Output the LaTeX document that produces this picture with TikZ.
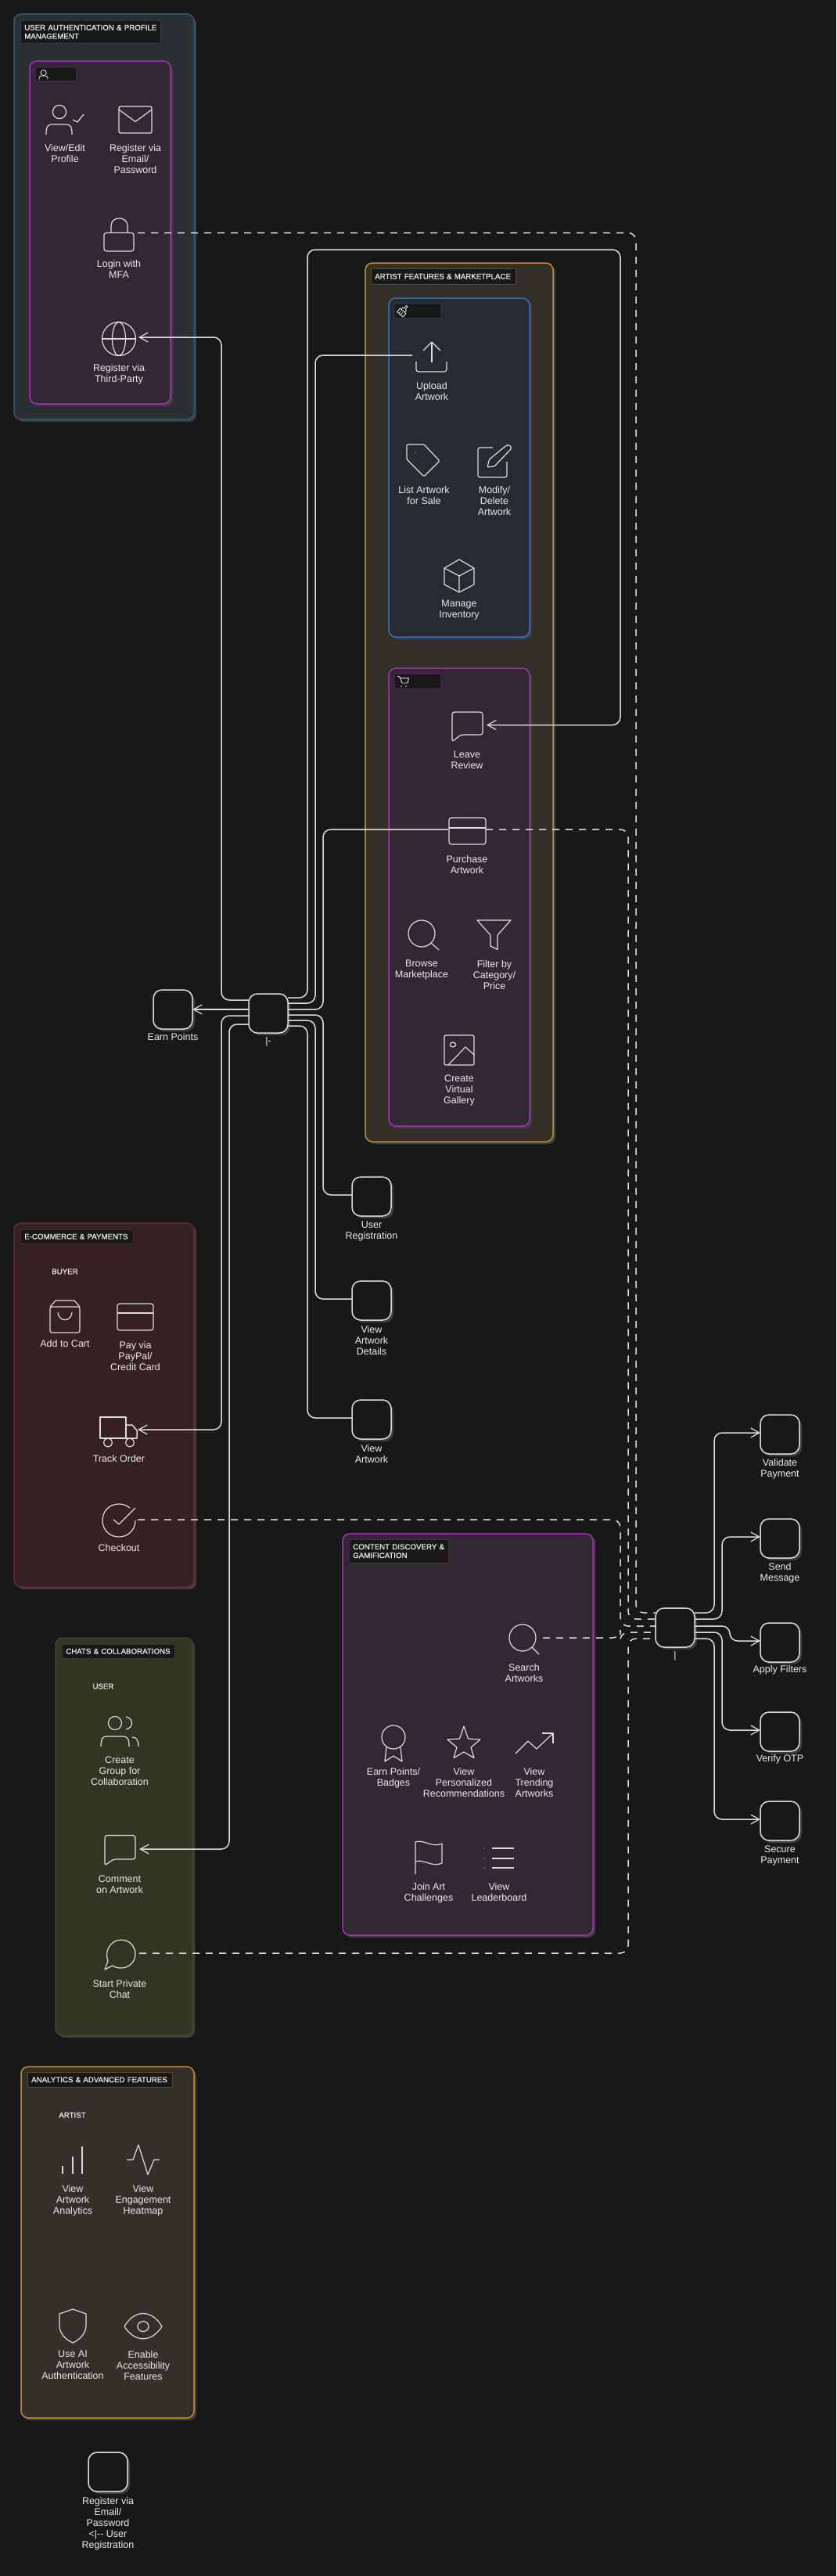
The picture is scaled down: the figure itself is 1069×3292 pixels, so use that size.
\documentclass[tikz,border=0pt]{standalone}
\usepackage{fontspec}
\setmainfont{Liberation Sans}
\newfontfamily\ttlfont[FakeBold=0.8]{Liberation Sans}
\usetikzlibrary{arrows.meta,shadows}
\hyphenpenalty=10000
\exhyphenpenalty=10000
\definecolor{bgc}{HTML}{181818}
\definecolor{shc}{HTML}{3F3F3F}
\definecolor{wln}{HTML}{DCDCDC}
\definecolor{txc}{HTML}{EAEAEA}
\definecolor{authf}{HTML}{292F32}\definecolor{auths}{HTML}{2F5A6B}
\definecolor{purf}{HTML}{322733}\definecolor{purs}{HTML}{A333B3}
\definecolor{orf}{HTML}{33302A}\definecolor{ors}{HTML}{C98A2B}
\definecolor{bluf}{HTML}{262A31}\definecolor{blus}{HTML}{3070C8}
\definecolor{redf}{HTML}{352023}\definecolor{reds}{HTML}{6A2A2E}
\definecolor{olf}{HTML}{333421}\definecolor{ols}{HTML}{43452A}
\newcounter{labc}
\tikzset{
 x=1pt,y=-1pt,
 panelst/.style={rounded corners=9pt,line width=1.5pt,drop shadow={shadow xshift=3pt,shadow yshift=-3pt,opacity=1,fill=shc}},
 ttl/.style={anchor=north west,fill=bgc,draw=#1,line width=.5pt,inner xsep=5pt,inner ysep=0pt,align=left,text=txc,font=\ttlfont\fontsize{9.7}{11}\selectfont,rounded corners=1pt},
 lbl/.style={anchor=north,inner sep=0pt,align=center,text=txc,font=\fontsize{12.5}{14}\selectfont},
 small/.style={anchor=center,inner sep=0pt,text=txc,font=\ttlfont\fontsize{9.7}{12}\selectfont},
 hit/.style={minimum width=50pt,minimum height=50pt,inner sep=0pt,outer sep=0pt},
 ubox/.style={minimum width=50pt,minimum height=50pt,inner sep=0pt,outer sep=0pt,draw=wln,fill=bgc,line width=1.5pt,rounded corners=11pt,drop shadow={shadow xshift=3pt,shadow yshift=-3pt,opacity=1,fill=shc}},
 ico/.style={draw=wln,line width=1.2pt,line join=round},
 conn/.style={draw=wln,line width=1.5pt,rounded corners=10pt},
 arr/.style={conn,-{Straight Barb[length=11pt,width=12pt,line width=1.2pt]}},
 dsh/.style={conn,dash pattern=on 9pt off 8pt},
}
\newcommand{\panel}[6]{\draw[panelst,fill=#5,draw=#6] (#1,#2) rectangle (#3,#4);}
\newcommand{\lab}[3]{\stepcounter{labc}\node[lbl] (lab\thelabc) at (#1,#2-5) {#3};}
\newcommand{\tline}[1]{\rlap{#1}}
\begin{document}
\begin{tikzpicture}
\useasboundingbox (0,0) rectangle (1069,3292);
\fill[bgc] (0,0) rectangle (1069,3292);

% ---------- panels
\panel{18}{18}{248}{536}{authf}{auths}
\panel{38}{78}{218}{516}{purf}{purs}
\panel{467}{336}{707}{1459}{orf}{ors}
\panel{497}{381}{677}{814}{bluf}{blus}
\panel{497}{854}{677}{1439}{purf}{purs}
\panel{18}{1563}{248}{2028}{redf}{reds}
\panel{71}{2093}{246}{2601}{olf}{ols}
\panel{438}{1960}{758}{2473}{purf}{purs}
\panel{27}{2641}{248}{3090}{orf}{ors}

% ---------- titles
\node[ttl=auths,minimum width=179pt,minimum height=29pt,text width=169pt] (t1) at (26,26) {\tline{USER AUTHENTICATION \& PROFILE}\\\tline{MANAGEMENT}};
\node[ttl=ors!60!bgc,minimum width=185pt,minimum height=20pt,text width=175pt] (t2) at (474,343) {\tline{ARTIST FEATURES \& MARKETPLACE}};
\node[ttl=reds,minimum width=144pt,minimum height=18pt,text width=134pt] (t3) at (26,1571) {\tline{E-COMMERCE \& PAYMENTS}};
\node[ttl=ols,minimum width=144pt,minimum height=18pt,text width=134pt] (t4) at (79,2101) {\tline{CHATS \& COLLABORATIONS}};
\node[ttl=purs!60!bgc,minimum width=127pt,minimum height=30pt,text width=117pt] (t5) at (446,1967) {\tline{CONTENT DISCOVERY \&}\\\tline{GAMIFICATION}};
\node[ttl=ors!60!bgc,minimum width=185pt,minimum height=19pt,text width=175pt] (t6) at (35,2648) {\tline{ANALYTICS \& ADVANCED FEATURES}};

% small tag boxes
\draw[fill=bgc,draw=purs!70!bgc,line width=.6pt,rounded corners=1pt] (45,86) rectangle (98,104);
\draw[fill=bgc,draw=blus!60!bgc,line width=.6pt,rounded corners=1pt] (504,388) rectangle (564,407);
\draw[fill=bgc,draw=purs!60!bgc,line width=.6pt,rounded corners=1pt] (504,861) rectangle (564,880);
% tag icons
\draw[ico,line width=.9pt] (55.7,93) circle[radius=3.6pt];
\draw[ico,line width=.9pt] (50,101.5) -- (50,100) .. controls (50,97) and (52,97) .. (53,97) -- (58,97) .. controls (61,97) and (61,98) .. (61,101.5);
\begin{scope}[shift={(514.5,398)},rotate=-40]
\draw[ico,line width=.9pt] (-5,-1) rectangle (5,5);
\draw[ico,line width=.9pt] (-3,-1) -- (-3,-4) -- (-1,-5) -- (-1,-9) -- (1,-9) -- (1,-5) -- (3,-4) -- (3,-1);
\draw[ico,line width=.7pt] (-2,1) -- (-2,5) (1,1) -- (1,5);
\end{scope}
\draw[ico,line width=.9pt] (508,864) -- (511,865) -- (514,873) -- (521,873) -- (522.5,866.5) -- (511.5,866.5);
\fill[wln] (513,877) circle[radius=.8pt] (519,877) circle[radius=.8pt];

% ---------- hit areas of the icons used by connectors
\node[hit] (lock) at (151,297.5) {};
\node[hit] (globe) at (152,431) {};
\node[hit] (upload) at (552,454) {};
\node[hit] (leave) at (597,926.5) {};
\node[hit,minimum width=48pt] (purchase) at (597,1060) {};
\node[hit] (track) at (151,1827) {};
\node[hit] (checkout) at (151,1942) {};
\node[hit] (search) at (669,2093) {};
\node[hit] (comment) at (153,2363) {};
\node[hit] (chat) at (153,2496) {};

% ---------- auth icons
\draw[ico] (76,143) circle[radius=8.6pt];
\draw[ico] (59,172) .. controls (59,161) and (61,159) .. (68,159) -- (83,159) .. controls (90,159) and (92,161) .. (92,172);
\draw[ico] (93,153) -- (99,156) -- (107,146);
\lab{83}{189}{View/Edit\\Profile}
\draw[ico,rounded corners=2pt] (152,136) rectangle (194,170);
\draw[ico] (152,140) -- (173,155.5) -- (194,140);
\lab{173}{189}{Register via\\Email/\\Password}
\draw[ico,rounded corners=3pt] (133,297.5) rectangle (171,321);
\draw[ico] (142,297.5) -- (142,289) .. controls (142,282) and (147,279) .. (152.5,279) .. controls (158,279) and (163,282) .. (163,289) -- (163,297.5);
\lab{152}{337}{Login with\\MFA}
\draw[ico] (152,433) circle[radius=21.5pt];
\draw[ico] (152,433) ellipse[x radius=8.5pt,y radius=21.5pt];
\draw[ico] (130.5,433) -- (173.5,433);
\lab{152}{470}{Register via\\Third-Party}

% ---------- artist icons
\draw[ico] (552,463) -- (552,437);
\draw[ico] (541,448) -- (552,437) -- (563,448);
\draw[ico,rounded corners=3pt] (532,462) -- (532,475) -- (571,475) -- (571,462);
\lab{552}{493}{Upload\\Artwork}
\draw[ico,rounded corners=1.5pt] (520,568) -- (542,568) -- (562,589) -- (542,609) -- (520,587) -- cycle;
\fill[wln] (531,578.5) circle[radius=.7pt];
\lab{542}{626}{List Artwork\\for Sale}
\draw[ico,rounded corners=2.5pt] (630,572) -- (611,572) -- (611,610) -- (648,610) -- (648,590);
\draw[ico,rounded corners=1pt] (623,597) -- (625.5,587) -- (647,569.5) .. controls (650,568) and (654,570) .. (653,574) -- (632,596) -- cycle;
\lab{632}{626}{Modify/\\Delete\\Artwork}
\draw[ico] (587,715) -- (606,726) -- (606,747) -- (587,757) -- (568,747) -- (568,726) -- cycle;
\draw[ico] (568,726) -- (587,736) -- (606,726) (587,736) -- (587,757);
\lab{587}{772}{Manage\\Inventory}

\draw[ico,rounded corners=3pt] (578,948) -- (578,910) -- (617,910) -- (617,939) -- (589,939) -- cycle;
\lab{597}{965}{Leave\\Review}
\draw[ico,rounded corners=3pt] (574,1045) rectangle (621,1079);
\draw[ico] (574,1058) -- (621,1058);
\lab{597}{1098}{Purchase\\Artwork}
\draw[ico] (539,1193) circle[radius=17pt];
\draw[ico] (551,1205) -- (561,1214);
\lab{539}{1232}{Browse\\Marketplace}
\draw[ico] (610,1176) -- (653,1176) -- (636,1195) -- (636,1213.5) -- (627,1209) -- (627,1195) -- cycle;
\lab{632}{1232}{Filter by\\Category/\\Price}
\draw[ico,rounded corners=2pt] (568,1323) rectangle (606,1361);
\draw[ico] (579,1335) ellipse[x radius=3.6pt,y radius=3pt];
\draw[ico] (573,1361) -- (595,1338) -- (606,1348);
\lab{587}{1379}{Create\\Virtual\\Gallery}

% ---------- e-commerce icons
\node[small] (buyer) at (83,1625) {BUYER};
\draw[ico,rounded corners=2.5pt] (64,1670) rectangle (102,1703);
\draw[ico] (64,1670) -- (71,1662) -- (95,1662) -- (102,1670);
\draw[ico] (74,1677) .. controls (75,1690) and (91,1690) .. (92,1677);
\lab{83}{1717}{Add to Cart}
\draw[ico,rounded corners=3pt] (150,1666) rectangle (196,1700);
\draw[ico] (150,1678) -- (196,1678);
\lab{173}{1719}{Pay via\\PayPal/\\Credit Card}
\draw[ico,line width=1.5pt] (128,1811) rectangle (161,1838);
\draw[ico,line width=1.5pt] (161,1821) -- (169,1821) -- (175,1828) -- (175,1838) -- (161,1838);
\draw[ico] (138,1843.5) circle[radius=5.5pt] (166,1843.5) circle[radius=5.5pt];
\lab{152}{1864}{Track Order}
\draw[ico] (166,1927) .. controls (161,1923) and (156,1922) .. (152,1922) .. controls (140,1922) and (131,1931) .. (131,1943) .. controls (131,1955) and (140,1964) .. (152,1964) .. controls (164,1964) and (173,1955) .. (173,1943);
\draw[ico] (145,1942) -- (152,1948) -- (173,1927);
\lab{152}{1978}{Checkout}

% ---------- chat icons
\node[small] (user) at (132,2155) {USER};
\draw[ico] (147,2202) circle[radius=8.5pt];
\draw[ico] (129,2232) .. controls (129,2222) and (131,2219) .. (137,2219) -- (157,2219) .. controls (163,2219) and (165,2222) .. (165,2232);
\draw[ico] (161,2194) .. controls (171,2196) and (171,2208) .. (161,2210);
\draw[ico] (169,2220) .. controls (175,2220) and (177,2224) .. (177,2232);
\lab{153}{2250}{Create\\Group for\\Collaboration}
\draw[ico,rounded corners=3pt] (134,2384) -- (134,2345.5) -- (173,2345.5) -- (173,2376) -- (145,2376) -- cycle;
\lab{153}{2402}{Comment\\on Artwork}
\draw[ico] (134,2517) -- (138,2506) .. controls (133,2494) and (141,2479) .. (155,2479) .. controls (166,2479) and (173,2488) .. (173,2497) .. controls (173,2508) and (164,2515) .. (155,2515) .. controls (151,2515) and (147,2514) .. (144,2512) -- cycle;
\lab{153}{2535}{Start Private\\Chat}

% ---------- content discovery icons
\draw[ico] (668,2093) circle[radius=17pt];
\draw[ico] (680,2105) -- (689,2114);
\lab{670}{2131}{Search\\Artworks}
\draw[ico] (503,2220) circle[radius=15pt];
\draw[ico] (494,2233) -- (492,2251) -- (503,2244) -- (514,2251) -- (512,2233);
\lab{503}{2264}{Earn Points/\\Badges}
\draw[ico] (593,2206) -- (598.5,2222) -- (614,2223) -- (602,2233) -- (606,2246.5) -- (593,2239) -- (580,2246.5) -- (584,2233) -- (572,2223) -- (587.5,2222) -- cycle;
\lab{593}{2264}{View\\Personalized\\Recommendations}
\draw[ico] (659,2241) -- (675,2225) -- (686,2235) -- (707,2215);
\draw[ico] (693,2215) -- (707,2215) -- (707,2228);
\lab{683}{2264}{View\\Trending\\Artworks}
\draw[ico] (531,2395) -- (531,2354) .. controls (541,2350) and (553,2362) .. (565,2356) -- (565,2381) .. controls (553,2387) and (541,2375) .. (531,2379);
\lab{548}{2411}{Join Art\\Challenges}
\draw[ico] (629,2362) -- (657,2362) (629,2375) -- (657,2375) (629,2387) -- (657,2387);
\fill[wln] (619,2362) circle[radius=.7pt] (619,2375) circle[radius=.7pt] (619,2387) circle[radius=.7pt];
\lab{638}{2411}{View\\Leaderboard}

% ---------- analytics icons
\node[small] (artist) at (92.5,2703) {ARTIST};
\draw[ico] (80,2768) -- (80,2778) (93,2756) -- (93,2778) (105,2743) -- (105,2778);
\lab{93}{2797}{View\\Artwork\\Analytics}
\draw[ico] (162,2760) -- (170,2760) -- (177,2741) -- (189,2779) -- (197,2760) -- (204,2760);
\lab{183}{2797}{View\\Engagement\\Heatmap}
\draw[ico] (93,2951) -- (110,2957) -- (110,2972) .. controls (110,2982) and (102,2990) .. (93,2994) .. controls (84,2990) and (76,2982) .. (76,2972) -- (76,2957) -- cycle;
\lab{93}{3009}{Use AI\\Artwork\\Authentication}
\draw[ico] (159,2973) .. controls (172,2951) and (194,2951) .. (207,2973) .. controls (194,2994) and (172,2994) .. (159,2973) -- cycle;
\draw[ico] (183,2973) ellipse[x radius=7pt,y radius=6.5pt];
\lab{183}{3009}{Enable\\Accessibility\\Features}

% ---------- plain boxes and hubs
\node[ubox] (hubA) at (343,1295) {};
\node[ubox] (earn) at (221,1290) {};
\node[ubox] (ureg) at (475,1529) {};
\node[ubox] (details) at (475,1662) {};
\node[ubox] (vart) at (475,1814) {};
\node[ubox] (hubB) at (863,2080) {};
\node[ubox] (valid) at (997,1833) {};
\node[ubox] (send) at (997,1966) {};
\node[ubox] (apply) at (997,2099) {};
\node[ubox] (verify) at (997,2213) {};
\node[ubox] (secure) at (997,2327) {};
\node[ubox] (regem) at (138,3159) {};
\lab{343}{1330}{|-}
\lab{863}{2115}{|}
\lab{221}{1325}{Earn Points}
\lab{475}{1566}{User\\Registration}
\lab{475}{1699}{View\\Artwork\\Details}
\lab{475}{1851}{View\\Artwork}
\lab{997}{1869}{Validate\\Payment}
\lab{997}{2002}{Send\\Message}
\lab{997}{2133}{Apply Filters}
\lab{997}{2247}{Verify OTP}
\lab{997}{2364}{Secure\\Payment}
\lab{138}{3196.5}{Register via\\Email/\\Password\\<|-{}- User\\Registration}

% ---------- connectors, hub A
\draw[arr] ([yshift=17pt]hubA.west) -- (283,1278) -- (283,431) -- (globe.east);
\draw[arr] ([yshift=5pt]hubA.west) -- (earn.east);
\draw[arr] ([yshift=-3pt]hubA.west) -- (283,1298) -- (283,1827) -- (track.east);
\draw[arr] ([yshift=-14pt]hubA.west) -- (293,1309) -- (293,2363) -- (comment.east);
\draw[arr] ([yshift=20pt]hubA.east) -- (393,1275) -- (393,319) -- (793,319) -- (793,926.5) -- (leave.east);
\draw[conn] ([yshift=13pt]hubA.east) -- (403,1282) -- (403,454) -- (upload.west);
\draw[conn] ([yshift=5pt]hubA.east) -- (413,1290) -- (413,1060) -- (purchase.west);
\draw[conn] ([yshift=-2pt]hubA.east) -- (413,1297) -- (413,1527) -- ([yshift=2pt]ureg.west);
\draw[conn] ([yshift=-9pt]hubA.east) -- (403,1304) -- (403,1660) -- ([yshift=2pt]details.west);
\draw[conn] ([yshift=-16pt]hubA.east) -- (393,1311) -- (393,1812) -- ([yshift=2pt]vart.west);
% ---------- connectors, hub B
\draw[dsh] (lock.east) -- (813,297.5) -- (813,2061) -- ([yshift=19pt]hubB.west);
\draw[dsh] (purchase.east) -- (803,1060) -- (803,2069) -- ([yshift=11pt]hubB.west);
\draw[dsh] (checkout.east) -- (793,1942) -- (793,2078) -- ([yshift=2pt]hubB.west);
\draw[dsh] (search.east) -- (793,2093) -- (793,2086) -- ([yshift=-6pt]hubB.west);
\draw[dsh] (chat.east) -- (803,2496) -- (803,2094) -- ([yshift=-14pt]hubB.west);
\draw[arr] ([yshift=19pt]hubB.east) -- (913,2061) -- (913,1831) -- ([yshift=2pt]valid.west);
\draw[arr] ([yshift=11pt]hubB.east) -- (923,2069) -- (923,1964) -- ([yshift=2pt]send.west);
\draw[arr] ([yshift=2pt]hubB.east) -- (933,2078) -- (933,2097) -- ([yshift=2pt]apply.west);
\draw[arr] ([yshift=-6pt]hubB.east) -- (923,2086) -- (923,2211) -- ([yshift=2pt]verify.west);
\draw[arr] ([yshift=-14pt]hubB.east) -- (913,2094) -- (913,2325) -- ([yshift=2pt]secure.west);
\end{tikzpicture}
\end{document}
